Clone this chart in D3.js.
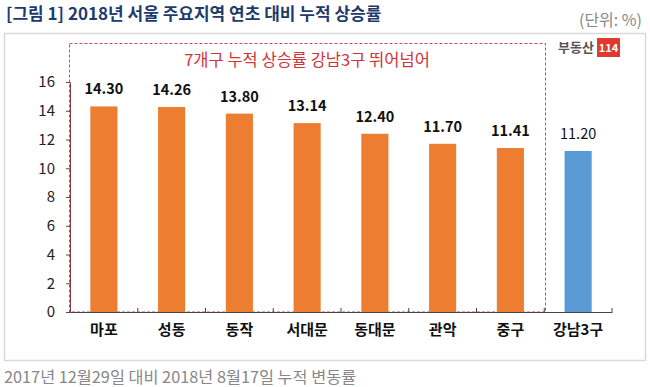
<!DOCTYPE html>
<html><head><meta charset="utf-8">
<script src="https://cdn.jsdelivr.net/npm/d3@7"></script>
<style>body{margin:0;background:#fff;}svg{display:block;font-family:"Noto Sans CJK KR","Noto Sans",sans-serif;}</style>
</head><body>
<script>
const categories = ["마포","성동","동작","서대문","동대문","관악","중구","강남3구"];
const values = [14.30,14.26,13.80,13.14,12.40,11.70,11.41,11.20];
const labels = ["14.30","14.26","13.80","13.14","12.40","11.70","11.41","11.20"];
const yTicks = [0,2,4,6,8,10,12,14,16];
const title = "[그림 1] 2018년 서울 주요지역 연초 대비 누적 상승률";
const unit = "(단위: %)";
const note = "7개구 누적 상승률 강남3구 뛰어넘어";
const footnote = "2017년 12월29일 대비 2018년 8월17일 누적 변동률";

const W=650,H=387;
const svg=d3.select("body").append("svg").attr("width",W).attr("height",H);

svg.append("text").attr("x",6).attr("y",20).attr("font-size",17).attr("font-weight","bold")
  .attr("fill","#1f3b6e").text(title);
svg.append("text").attr("x",642).attr("y",26).attr("text-anchor","end").attr("font-size",16)
  .attr("fill","#888").text(unit);

svg.append("rect").attr("x",4.5).attr("y",33.5).attr("width",641).attr("height",327)
  .attr("fill","none").attr("stroke","#d9d9d9").attr("stroke-width",1.5);

const x=d3.scaleBand().domain(categories).range([70,612]).paddingInner(0.6).paddingOuter(0.3);
const y=d3.scaleLinear().domain([0,16]).range([312,82]);

// dashed highlight box
svg.append("rect").attr("x",69.5).attr("y",43.5).attr("width",476).attr("height",268.5)
  .attr("fill","none").attr("stroke","#c0505a").attr("stroke-dasharray","3,2").attr("stroke-width",1);
svg.append("text").attr("x",307).attr("y",66).attr("text-anchor","middle").attr("font-size",16.5)
  .attr("fill","#d0343a").text(note);

// logo
const lg=svg.append("g");
lg.append("text").attr("x",594).attr("y",52).attr("text-anchor","end").attr("font-size",13)
  .attr("font-weight","bold").attr("fill","#555").text("부동산");
lg.append("rect").attr("x",597).attr("y",38).attr("width",23).attr("height",19).attr("fill","#e03a2e");
lg.append("text").attr("x",608.5).attr("y",52).attr("text-anchor","middle").attr("font-size",11)
  .attr("font-weight","bold").attr("fill","#fff").text("114");

// bars
svg.append("g").selectAll("rect").data(values).join("rect")
  .attr("x",(d,i)=>x(categories[i])).attr("width",x.bandwidth())
  .attr("y",d=>y(d)).attr("height",d=>y(0)-y(d))
  .attr("fill",(d,i)=>i===categories.length-1?"#5b9bd5":"#ed7d31");

svg.append("g").selectAll("text").data(values).join("text")
  .attr("x",(d,i)=>x(categories[i])+x.bandwidth()/2).attr("y",d=>y(d)-12)
  .attr("text-anchor","middle").attr("font-size",14.5)
  .attr("font-weight",(d,i)=>i===categories.length-1?"normal":"bold")
  .attr("fill","#111").text((d,i)=>labels[i]);

// y axis
const ya=svg.append("g").attr("transform","translate(70,0)")
  .call(d3.axisLeft(y).tickValues(yTicks).tickSize(4).tickFormat(d3.format("d")));
ya.select(".domain").attr("stroke","#7f3b3b");
ya.selectAll(".tick line").attr("stroke","#7f3b3b");
ya.selectAll("text").attr("font-size",15).attr("fill","#222").attr("x",-15)
  .attr("font-family","'Noto Sans CJK KR',sans-serif");

// x axis
const xa=svg.append("g").attr("transform","translate(0,312)")
  .call(d3.axisBottom(x).tickSize(0).tickPadding(12));
xa.select(".domain").attr("stroke","#444");
xa.selectAll("text").attr("font-size",15).attr("font-weight","bold").attr("fill","#111")
  .attr("font-family","'Noto Sans CJK KR',sans-serif");
const bounds=categories.map(c=>x(c)-x.step()*x.paddingInner()/2).slice(1).concat([612]);
svg.append("g").selectAll("line").data(bounds).join("line")
  .attr("x1",d=>d).attr("x2",d=>d).attr("y1",312).attr("y2",308).attr("stroke","#444");

svg.append("text").attr("x",4).attr("y",383).attr("font-size",16.3).attr("fill","#888").text(footnote);
</script>
</body></html>
